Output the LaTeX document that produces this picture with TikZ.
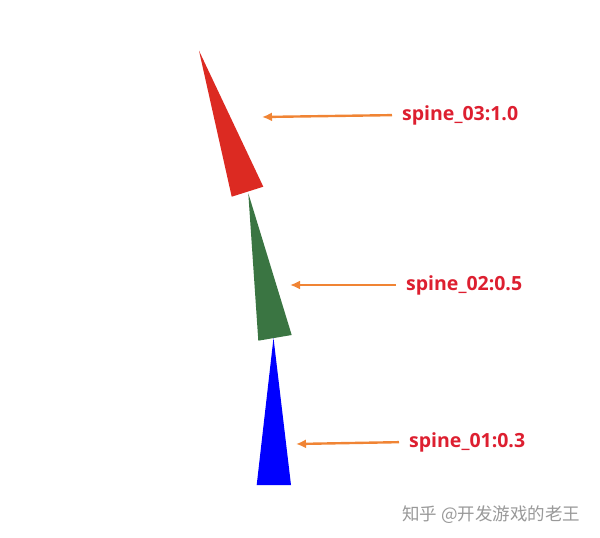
\documentclass[tikz,border=0pt]{standalone}
\usepackage{fontspec}
\setmainfont{Open Sans}
\newfontfamily\cjk{Noto Sans CJK SC}
\usetikzlibrary{arrows.meta,positioning}

\definecolor{bonered}{HTML}{DC2A22}
\definecolor{bonegreen}{HTML}{3A7542}
\definecolor{boneblue}{HTML}{0000FF}
\definecolor{arroworange}{HTML}{F08434}
\definecolor{labelred}{HTML}{DD1F30}

\begin{document}
\begin{tikzpicture}[x=1pt,y=-1pt
    , every node/.style={inner sep=1pt}
    , pointer/.style={draw=arroworange,line width=2.4pt,shorten <=9pt,
        -{Latex[length=10pt,width=9pt]}}
    , bonelabel/.style={anchor=west,text=labelred,font=\fontsize{19.5}{22}\selectfont\bfseries}
]
    \useasboundingbox (0,0) rectangle (600,538);

    % Bones.
    \fill[boneblue]  (256.7,485) -- (291,485) -- (273.5,338) -- cycle;
    \fill[bonegreen] (258.3,340.7) -- (291.7,335) -- (248.3,193.3) -- cycle;
    \fill[bonered]   (231.7,196.7) -- (263.3,186.7) -- (199,50.7) -- cycle;

    \coordinate (tip03) at (262,117);
    \coordinate (tip02) at (290,285);
    \coordinate (tip01) at (296,444);

    % Labels
    \node[bonelabel] (spine03) at (401,115) {spine\_03:1.0};
    \node[bonelabel] (spine02) at (405,285) {spine\_02:0.5};
    \node[bonelabel] (spine01) at (408,442) {spine\_01:0.3};

    \draw[pointer] (spine03.west) -- (tip03);
    \draw[pointer] (spine02.west) -- (tip02);
    \draw[pointer] (spine01.west) -- (tip01);

    % Watermark
    \node[anchor=west,text=black!40,font=\cjk\fontsize{17.5}{20}\selectfont] (mark) at (401,515)
        {知乎 @开发游戏的老王};
\end{tikzpicture}
\end{document}
